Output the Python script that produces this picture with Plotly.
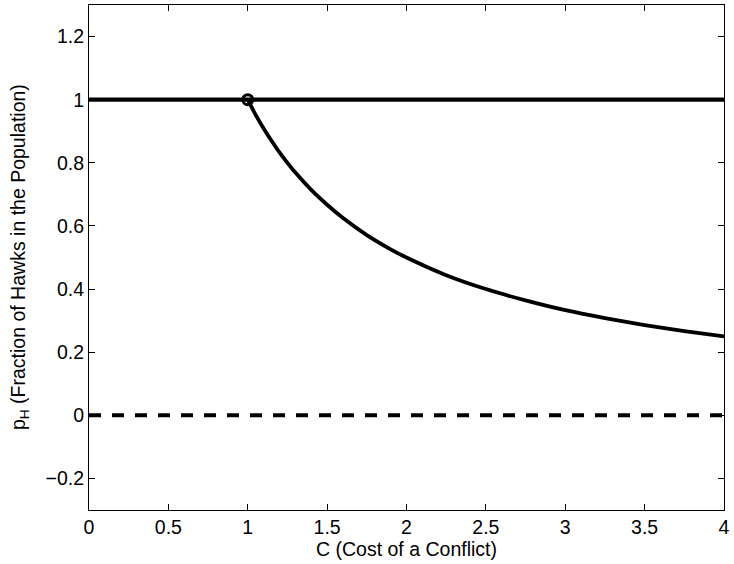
import plotly.graph_objects as go

# Data
c_full = [0, 4]
p_one = [1, 1]
p_zero = [0, 0]
c_curve = [1.0, 1.05, 1.1, 1.15, 1.2, 1.25, 1.3, 1.4, 1.5, 1.6, 1.75, 1.9, 2.0, 2.25, 2.5, 2.75, 3.0, 3.25, 3.5, 3.75, 4.0]
p_curve = [1.0, 0.952, 0.909, 0.87, 0.833, 0.8, 0.769, 0.714, 0.667, 0.625, 0.571, 0.526, 0.5, 0.444, 0.4, 0.364, 0.333, 0.308, 0.286, 0.267, 0.25]
c_point = [1]
p_point = [1]

x_ticks = [0, 0.5, 1, 1.5, 2, 2.5, 3, 3.5, 4]
x_ticktext = ["0", "0.5", "1", "1.5", "2", "2.5", "3", "3.5", "4"]
y_ticks = [-0.2, 0, 0.2, 0.4, 0.6, 0.8, 1.0, 1.2]
y_ticktext = ["\u22120.2", "0", "0.2", "0.4", "0.6", "0.8", "1", "1.2"]

FONT = "Liberation Sans, Arial, Helvetica, sans-serif"
FS = 19.5

fig = go.Figure()
fig.add_trace(go.Scatter(x=c_full, y=p_zero, mode="lines",
                         line=dict(color="black", width=4, dash="12px,11px"),
                         hoverinfo="skip"))
fig.add_trace(go.Scatter(x=c_full, y=p_one, mode="lines",
                         line=dict(color="black", width=4.2)))
fig.add_trace(go.Scatter(x=c_curve, y=p_curve, mode="lines",
                         line=dict(color="black", width=3.8, shape="spline", smoothing=0.8)))
fig.add_trace(go.Scatter(x=c_point, y=p_point, mode="markers",
                         marker=dict(symbol="circle-open", size=10, color="black",
                                     line=dict(width=3, color="black"))))

axis_common = dict(showline=True, linecolor="black", linewidth=1, mirror="ticks",
                   ticks="inside", ticklen=6, tickwidth=1, tickcolor="black",
                   showgrid=False, zeroline=False, ticklabeloverflow="allow",
                   tickfont=dict(family=FONT, size=FS, color="black"))

fig.update_xaxes(range=[0, 4], tickvals=x_ticks, ticktext=x_ticktext, **axis_common)
fig.update_yaxes(range=[-0.3, 1.3], tickvals=y_ticks, ticktext=y_ticktext, **axis_common)

fig.add_annotation(text="C (Cost of a Conflict)", xref="paper", yref="paper",
                   x=(409 - 89) / 640, y=-(549 - 510) / 506, xanchor="center", yanchor="middle",
                   showarrow=False, font=dict(family=FONT, size=FS, color="black"))
fig.add_annotation(text="p<sub>H</sub> (Fraction of Hawks in the Population)",
                   xref="paper", yref="paper", textangle=-90,
                   x=(19 - 89) / 640, y=0.5, xanchor="center", yanchor="middle",
                   showarrow=False, font=dict(family=FONT, size=FS, color="black"))

fig.update_layout(width=734, height=564, showlegend=False, hovermode=False,
                  margin=dict(l=89, r=5, t=4, b=54),
                  paper_bgcolor="white", plot_bgcolor="white")

fig.write_html("out.html", config={"displayModeBar": False},
               post_script="document.body.style.margin='0';document.body.style.overflow='hidden';")
